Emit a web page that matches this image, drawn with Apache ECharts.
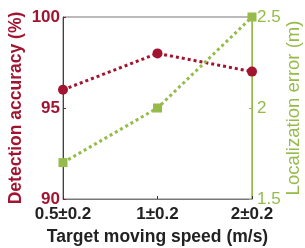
<!DOCTYPE html>
<html>
<head>
<meta charset="utf-8">
<script src="https://cdn.jsdelivr.net/npm/echarts@6/dist/echarts.min.js"></script>
<style>
  html, body { margin: 0; padding: 0; background: #fff; }
  #main { width: 305px; height: 248px; }
</style>
</head>
<body>
<div id="main"></div>
<script>
var speeds = ['0.5\u00b10.2', '1\u00b10.2', '2\u00b10.2'];
var accuracy = [96, 98, 97];
var locError = [1.7, 2.0, 2.5];

var red = '#A2142F';
var green = '#96BB4A';
var font = 'Liberation Sans';

var chartDom = document.getElementById('main');
var myChart = echarts.init(chartDom);
var option = {
    animation: false,
    grid: {
        left: 63, right: 53, top: 17, bottom: 49,
        outerBoundsMode: 'none',
        show: true, borderColor: '#777', borderWidth: 1
    },
    xAxis: {
        type: 'category',
        data: speeds,
        boundaryGap: false,
        name: 'Target moving speed (m/s)',
        nameLocation: 'middle',
        nameMoveOverlap: false,
        nameGap: 29,
        nameTextStyle: { fontFamily: font, fontWeight: 'bold', fontSize: 17.5, color: '#222' },
        axisLine: { lineStyle: { color: '#777' } },
        axisTick: { inside: true, length: 3, lineStyle: { color: '#333' } },
        axisLabel: { fontFamily: font, fontWeight: 'bold', fontSize: 17, color: '#222', margin: 7 },
        splitLine: { show: false }
    },
    yAxis: [
        {
            type: 'value', min: 90, max: 100, interval: 5,
            name: 'Detection accuracy (%)',
            nameLocation: 'middle',
            nameMoveOverlap: false,
            nameGap: 38,
            nameTextStyle: { fontFamily: font, fontWeight: 'bold', fontSize: 17.5, color: red },
            axisLine: { show: true, lineStyle: { color: red } },
            axisTick: { show: true, inside: true, length: 3, lineStyle: { color: red } },
            axisLabel: { fontFamily: font, fontWeight: 'bold', fontSize: 17, color: red, margin: 3 },
            splitLine: { show: false }
        },
        {
            type: 'value', min: 1.5, max: 2.5, interval: 0.5,
            name: 'Localization error (m)',
            nameLocation: 'middle',
            nameMoveOverlap: false,
            nameGap: 32,
            nameTextStyle: { fontFamily: font, fontSize: 18.5, color: green },
            axisLine: { show: true, lineStyle: { color: green } },
            axisTick: { show: true, inside: true, length: 3, lineStyle: { color: green } },
            axisLabel: { fontFamily: font, fontSize: 17, color: green, margin: 5 },
            splitLine: { show: false }
        }
    ],
    series: [
        {
            type: 'line', yAxisIndex: 0, data: accuracy,
            symbol: 'circle', symbolSize: 10,
            lineStyle: { color: red, width: 3, type: [3, 3] },
            itemStyle: { color: red }
        },
        {
            type: 'line', yAxisIndex: 1, data: locError,
            symbol: 'rect', symbolSize: 9,
            lineStyle: { color: green, width: 3, type: [3, 3] },
            itemStyle: { color: green }
        }
    ]
};
myChart.setOption(option);
</script>
</body>
</html>
